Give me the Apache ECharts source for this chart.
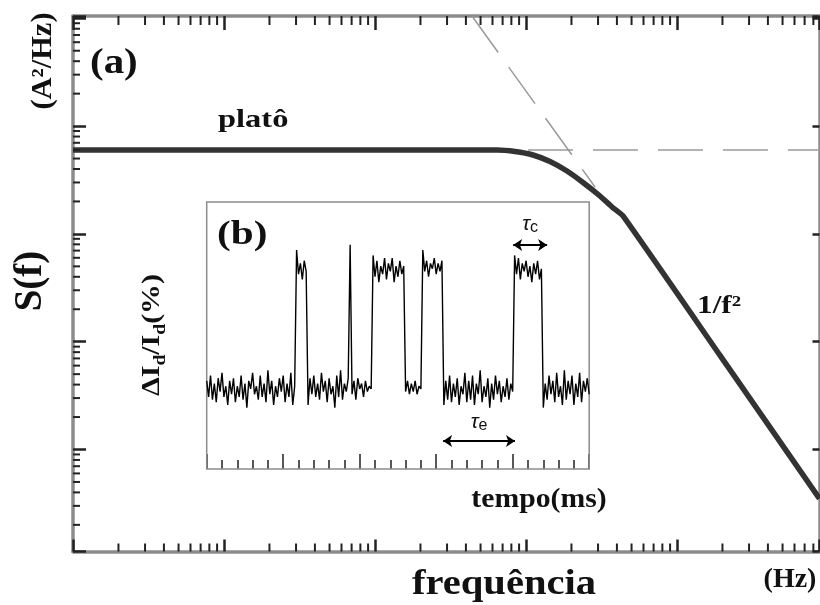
<!DOCTYPE html>
<html><head><meta charset="utf-8">
<script src="https://cdn.jsdelivr.net/npm/echarts@6/dist/echarts.min.js"></script>
<style>html,body{margin:0;padding:0;background:#fff}#c{width:820px;height:605px}</style>
</head><body><div id="c"></div>
<script>
// ---- main spectrum (a): S(f) ----
const freq = [1, 642.6, 845.6, 1113, 1442, 1868, 2385, 3091, 3711, 4389, 19270, 87840];
const spec = [600, 600, 581.1, 539.4, 469.4, 383.3, 299.8, 224.6, 177.6, 146.6, 7.46, 0.35];
// dashed asymptotes
const platoF = [1030, 87840];
const platoS = [600, 600];
const asymF = [438.5, 2864];
const asymS = [10502, 272];
// axis ranges (log)
const xMin = 1, xMax = 87840;
const yMin = 0.1132, yMax = 10502;
const decadesX = [1, 10, 100, 1000, 10000];
const decadesY = [0.1, 1, 10, 100, 1000];
const minorMult = [2, 3, 4, 5, 6, 7, 8, 9];

// ---- inset (b): random telegraph signal ----
const tempoPasso = 0.025; // ms per sample
const sinal = [
 3.3,2.7,3.5,2.6,3.2,2.5,3.4,2.9,3.6,2.7,3.1,2.4,3.3,2.8,3.4,2.5,3.1,2.7,3.5,2.6,3.2,2.3,3.3,3.0,3.6,2.8,3.1,2.6,3.5,2.7,3.2,2.5,3.7,2.8,3.3,2.4,3.1,2.7,3.4,2.9,3.5,2.5,3.2,2.7,3.6,2.4,3.1,
 8.2,7.3,7.7,7.1,7.8,7.4,
 2.4,3.4,2.8,3.5,2.7,3.2,2.6,3.6,2.9,3.3,2.5,3.4,2.8,3.1,2.3,3.5,2.7,3.7,2.6,3.2,2.9,3.4,
 8.4,
 2.8,3.3,2.6,3.4,3.0,3.2,2.7,3.3,2.9,3.1,3.0,
 8.0,7.2,7.8,7.0,7.6,7.3,7.9,7.1,7.7,7.4,7.9,7.0,7.6,7.2,7.8,7.3,7.6,
 2.9,3.3,2.8,3.2,2.9,3.3,2.8,3.1,3.0,
 8.2,7.4,7.8,7.2,7.7,7.5,7.9,7.3,7.7,7.4,7.8,
 2.4,3.3,2.6,3.5,2.5,3.2,2.7,3.4,2.4,3.1,2.8,3.6,2.5,3.3,2.6,3.5,2.4,3.2,2.8,3.7,2.5,3.1,2.7,3.4,2.3,3.2,2.6,3.5,2.8,3.3,2.5,3.1,2.7,3.4,2.6,3.2,2.9,
 8.0,7.3,7.9,7.1,7.7,7.4,7.8,7.2,7.6,7.0,7.7,7.3,7.8,7.1,7.5,
 2.3,3.2,2.6,3.5,2.8,3.3,2.5,3.6,2.7,3.1,2.4,3.7,2.6,3.3,2.8,3.5,2.4,3.2,2.7,3.6,2.5,3.3,2.9,3.4,2.8
];
const tauCt = [4.006, 4.45], tauCv = 8.39;
const tauEt = [3.09, 4.03], tauEv = 1.05;

// ---- build ----
const zip = (a, b) => a.map((v, i) => [v, b[i]]);
const minorX = [], minorY = [];
decadesX.forEach(d => minorMult.forEach(m => { const v = d * m; if (v > xMin && v < xMax) minorX.push(v); }));
decadesY.forEach(d => minorMult.forEach(m => { const v = +(d * m).toPrecision(6); if (v > yMin && v < yMax) minorY.push(v); }));

function tickSeries(data, dir, len) {
  return {
    type: 'custom', xAxisIndex: 0, yAxisIndex: 0, clip: false, silent: true, z: 6,
    data: data,
    renderItem: function (params, api) {
      const p = api.coord([api.value(0), api.value(1)]);
      let x2 = p[0], y2 = p[1];
      if (dir === 'up') y2 -= len; else if (dir === 'down') y2 += len; else x2 += len;
      return { type: 'line', shape: { x1: p[0], y1: p[1], x2: x2, y2: y2 }, style: { stroke: '#222', lineWidth: 2 } };
    }
  };
}

const SERIF = '"Liberation Serif", "Times New Roman", serif';
function txt(text, x, y, size, opt) {
  opt = opt || {};
  const st = {
    text: text, font: 'bold ' + size + 'px ' + SERIF, fill: '#111',
    textAlign: opt.align || 'center', align: opt.align || 'center',
    textVerticalAlign: 'middle', verticalAlign: 'middle'
  };
  if (opt.rich) { st.rich = opt.rich; st.lineHeight = opt.lineHeight; }
  return { type: 'text', x: x, y: y, z: 100, scaleX: opt.sx || 1, rotation: opt.rot || 0, style: st, silent: true };
}

const mainAxis = (pos, len) => ({
  type: 'log', logBase: 10, gridIndex: 0, position: pos,
  axisLine: { show: true, onZero: false, lineStyle: { color: '#8c8c8c', width: 3.5 } },
  axisTick: { show: true, inside: true, length: len, lineStyle: { color: '#222', width: 2.5 } },
  axisLabel: { show: false }, splitLine: { show: false }, minorTick: { show: false }, minorSplitLine: { show: false }
});

const option = {
  animation: false,
  backgroundColor: '#fff',
  grid: [
    { left: 73, right: 0.5, top: 16, bottom: 53.5 },
    { left: 206.7, top: 202, width: 382.5, height: 267, show: true, borderColor: '#8c8c8c', borderWidth: 1.5, backgroundColor: 'rgba(0,0,0,0)', z: 4 }
  ],
  xAxis: [
    Object.assign(mainAxis('bottom', 12), { min: xMin, max: xMax }),
    Object.assign(mainAxis('top', 14), { min: xMin, max: xMax }),
    {
      type: 'value', gridIndex: 1, min: 0, max: 5, interval: 1, position: 'bottom',
      axisLine: { show: false },
      axisTick: { show: true, inside: true, length: 15, lineStyle: { color: '#222', width: 1.5 } },
      minorTick: { show: true, splitNumber: 5, length: 9, lineStyle: { color: '#222', width: 1.5 } },
      axisLabel: { show: false }, splitLine: { show: false }, minorSplitLine: { show: false }
    }
  ],
  yAxis: [
    Object.assign(mainAxis('left', 13), { min: yMin, max: yMax }),
    Object.assign(mainAxis('right', 7), { min: yMin, max: yMax }),
    { type: 'value', gridIndex: 1, min: 0, max: 10, show: false }
  ],
  series: [
    { type: 'line', xAxisIndex: 0, yAxisIndex: 0, data: zip(platoF, platoS), symbol: 'none', silent: true, z: 2,
      lineStyle: { color: '#9a9a9a', width: 1.5, type: [45, 20] } },
    { type: 'line', xAxisIndex: 0, yAxisIndex: 0, data: zip(asymF, asymS), symbol: 'none', silent: true, z: 2,
      lineStyle: { color: '#9a9a9a', width: 1.5, type: [45, 18] } },
    { type: 'line', xAxisIndex: 0, yAxisIndex: 0, data: zip(freq, spec), symbol: 'none', silent: true, z: 3, smooth: 0.15,
      lineStyle: { color: '#333', width: 5.5, join: 'round', cap: 'butt' } },
    tickSeries(minorX.map(v => [v, yMin]), 'up', 8),
    tickSeries(minorX.map(v => [v, yMax]), 'down', 9),
    tickSeries(minorY.map(v => [xMin, v]), 'right', 7),
    { type: 'line', xAxisIndex: 2, yAxisIndex: 2, data: sinal.map((v, i) => [i * tempoPasso, v]), symbol: 'none', silent: true, z: 5,
      lineStyle: { color: '#000', width: 1.4 },
      markLine: {
        silent: true, symbol: ['arrow', 'arrow'], symbolSize: 9, animation: false,
        lineStyle: { color: '#000', width: 2, type: 'solid' },
        label: {
          show: true, position: 'insideMiddleTop', distance: 6,
          rich: {
            t: { fontFamily: '"Liberation Sans", Arial, sans-serif', fontStyle: 'italic', fontSize: 21, color: '#111', lineHeight: 24 },
            s: { fontFamily: '"Liberation Sans", Arial, sans-serif', fontSize: 16, color: '#111', verticalAlign: 'bottom', lineHeight: 16 }
          }
        },
        data: [
          [{ coord: [tauCt[0], tauCv], label: { formatter: '{t|τ}{s|c}', distance: 9 } }, { coord: [tauCt[1], tauCv] }],
          [{ coord: [tauEt[0], tauEv], label: { formatter: '{t|τ}{s|e}', distance: 7 } }, { coord: [tauEt[1], tauEv] }]
        ]
      }
    }
  ],
  graphic: [
    txt('(a)', 90, 64, 35, { align: 'left', sx: 1.17 }),
    txt('platô', 218, 121, 25, { align: 'left', sx: 1.3 }),
    txt('(b)', 217, 235, 33, { align: 'left', sx: 1.25 }),
    txt('1/f²', 697, 307, 25, { align: 'left', sx: 1.25 }),
    txt('tempo(ms)', 539, 500, 27, { sx: 1.1 }),
    txt('frequência', 504, 585, 35, { sx: 1.16 }),
    txt('(Hz)', 790, 580, 28, {}),
    txt('S(f)', 31, 281, 39, { rot: Math.PI / 2 }),
    txt('(A²/Hz)', 44, 61, 29, { rot: Math.PI / 2, sx: 1.05 }),
    txt('ΔI{s|d}/I{s|d}(%)', 152, 335, 26, { rot: Math.PI / 2, sx: 1.15, lineHeight: 34,
      rich: { s: { fontSize: 17, fontWeight: 'bold', fontFamily: SERIF, verticalAlign: 'bottom', lineHeight: 17 } } })
  ]
};
const chart = echarts.init(document.getElementById('c'), null, { renderer: 'canvas' });
chart.setOption(option);
</script>
</body></html>
